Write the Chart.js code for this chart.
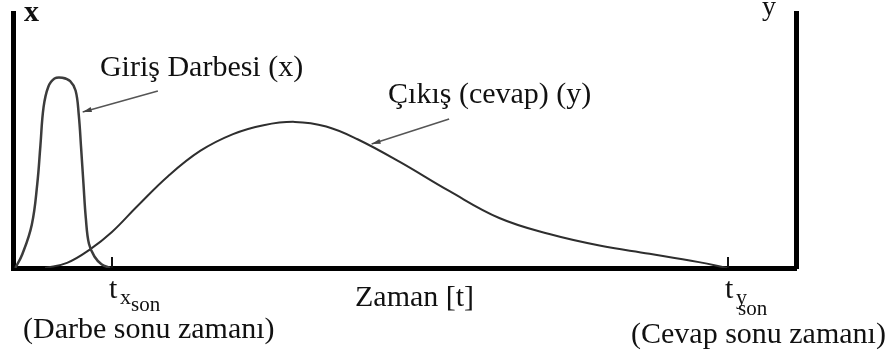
<!DOCTYPE html>
<html>
<head>
<meta charset="utf-8">
<script src="https://cdn.jsdelivr.net/npm/chart.js@4"></script>
<style>
  html, body { margin: 0; padding: 0; background: #fff; }
  #wrap { width: 888px; height: 356px; }
</style>
</head>
<body>
<div id="wrap"><canvas id="pulseChart"></canvas></div>
<script>
// time runs 0..100 along the axis, amplitude 0..100 on both sides
const pulseTime = [0.3, 1.2, 2.4, 3.1, 3.5, 3.9, 4.5, 5.3, 6.3, 7.3, 8.0, 8.4, 8.7, 9.0, 9.3, 9.7, 10.4, 11.3, 12.4];
const pulseValue = [0, 5.5, 17, 33, 48, 63, 71, 74.3, 74.6, 73.3, 69.5, 60, 47, 33, 19.6, 9.5, 4.5, 1.5, 0];

const responseTime = [4.1, 6.9, 9.8, 12.6, 15.8, 19.8, 23.9, 28.1, 32.0, 36.0, 40.0, 44.0, 49.4, 55.7, 62.1, 68.5, 74.9, 81.3, 87.6, 91.2];
const responseValue = [0, 2.0, 7.2, 14.0, 24.0, 36.0, 45.9, 52.5, 56.0, 57.3, 55.5, 50.5, 41.6, 30.2, 19.6, 13.3, 8.8, 5.6, 2.3, 0];

// end of pulse / end of response
const endTimes = [12.6, 91.3];
const endSubs = ["x", "y"];
const endNotes = ["(Darbe sonu zamanı)", "(Cevap sonu zamanı)"];

const toPoints = (xs, ys) => xs.map((x, i) => ({ x: x, y: ys[i] }));

const serif = "'Liberation Serif', 'Times New Roman', serif";

// labels with arrows pointing at the curves (data coords)
const callouts = [
  { text: "Giriş Darbesi (x)", at: [11.1, 75.3], from: [18.5, 69.4], to: [8.9, 61.2] },
  { text: "Çıkış (cevap) (y)", at: [47.9, 64.7], from: [55.7, 58.4], to: [45.8, 48.6] },
];

const drawArrow = (ctx, x1, y1, x2, y2) => {
  const ang = Math.atan2(y2 - y1, x2 - x1);
  ctx.strokeStyle = "#555";
  ctx.fillStyle = "#444";
  ctx.lineWidth = 1.5;
  ctx.beginPath();
  ctx.moveTo(x1, y1);
  ctx.lineTo(x2, y2);
  ctx.stroke();
  ctx.beginPath();
  ctx.moveTo(x2, y2);
  ctx.lineTo(x2 - 9 * Math.cos(ang) + 2.5 * Math.sin(ang), y2 - 9 * Math.sin(ang) - 2.5 * Math.cos(ang));
  ctx.lineTo(x2 - 9 * Math.cos(ang) - 2.5 * Math.sin(ang), y2 - 9 * Math.sin(ang) + 2.5 * Math.cos(ang));
  ctx.closePath();
  ctx.fill();
};

const textPlugin = {
  id: "pulseText",
  afterDraw(chart) {
    const ctx = chart.ctx;
    const xs = chart.scales.x;
    const ys = chart.scales.y;
    const area = chart.chartArea;
    ctx.save();
    ctx.fillStyle = "#111";
    ctx.textBaseline = "alphabetic";
    ctx.textAlign = "left";

    // axis names
    ctx.font = "bold 30px " + serif;
    ctx.fillText("x", area.left + 11, 21);
    ctx.font = "28px " + serif;
    ctx.fillText("y", area.right - 34, 15);

    ctx.font = "30px " + serif;
    ctx.fillText("Zaman [t]", area.left + 342, 306);

    // end-time ticks and their labels
    const noteShift = [-89, -97];
    const noteBase = [338, 343];
    endTimes.forEach((t, i) => {
      const px = Math.round(xs.getPixelForValue(t));
      ctx.strokeStyle = "#111";
      ctx.lineWidth = 2;
      ctx.beginPath();
      ctx.moveTo(px, area.bottom - 11);
      ctx.lineTo(px, area.bottom);
      ctx.stroke();

      ctx.fillStyle = "#111";
      ctx.font = "30px " + serif;
      ctx.fillText("t", px - 3, 298);
      ctx.font = "22px " + serif;
      ctx.fillText(endSubs[i], px + 8, 304);
      ctx.font = "21px " + serif;
      ctx.fillText("son", px + 19 - i * 9, 311 + i * 4);

      ctx.font = "30px " + serif;
      ctx.fillText(endNotes[i], px + noteShift[i], noteBase[i]);
    });

    callouts.forEach((c) => {
      ctx.fillStyle = "#111";
      ctx.font = "30px " + serif;
      ctx.fillText(c.text, xs.getPixelForValue(c.at[0]), ys.getPixelForValue(c.at[1]));
      drawArrow(ctx,
        xs.getPixelForValue(c.from[0]), ys.getPixelForValue(c.from[1]),
        xs.getPixelForValue(c.to[0]), ys.getPixelForValue(c.to[1]));
    });
    ctx.restore();
  },
};

const flat = (s) => { if (s.isHorizontal()) s.height = 0; else s.width = 0; };
const axisBorder = { display: true, width: 5, color: "#000" };

new Chart(document.getElementById("pulseChart"), {
  type: "line",
  data: {
    datasets: [
      {
        label: "x",
        data: toPoints(pulseTime, pulseValue),
        borderColor: "#3c3c3c",
        borderWidth: 2.5,
        pointRadius: 0,
        tension: 0.4,
        yAxisID: "y",
      },
      {
        label: "y",
        data: toPoints(responseTime, responseValue),
        borderColor: "#2e2e2e",
        borderWidth: 2,
        pointRadius: 0,
        tension: 0.4,
        yAxisID: "y2",
      },
    ],
  },
  options: {
    responsive: true,
    maintainAspectRatio: false,
    animation: false,
    layout: { padding: { left: 13, right: 92, top: 13, bottom: 88 } },
    plugins: { legend: { display: false }, tooltip: { enabled: false } },
    scales: {
      x: {
        type: "linear",
        min: 0,
        max: 100,
        grid: { display: false },
        ticks: { display: false },
        border: axisBorder,
        afterFit: flat,
      },
      y: {
        position: "left",
        min: 0,
        max: 100,
        grid: { display: false },
        ticks: { display: false },
        border: axisBorder,
        afterFit: flat,
      },
      y2: {
        position: "right",
        min: 0,
        max: 100,
        grid: { display: false },
        ticks: { display: false },
        border: axisBorder,
        afterFit: flat,
      },
    },
  },
  plugins: [textPlugin],
});
</script>
</body>
</html>
